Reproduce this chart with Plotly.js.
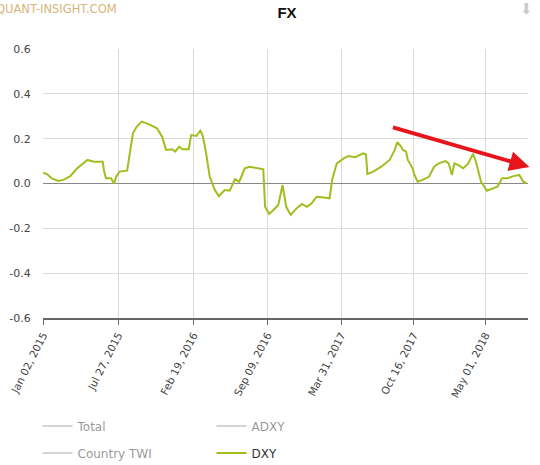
<!DOCTYPE html>
<html>
<head>
<meta charset="utf-8">
<script src="https://cdn.plot.ly/plotly-3.0.1.min.js"></script>
<style>html,body{margin:0;padding:0;background:#fff;}#chart{width:540px;height:465px;}</style>
</head>
<body>
<div id="chart"></div>
<script>
// DXY factor sensitivity
var dxyDates = [
  '2015-01-02','2015-01-13','2015-01-26','2015-02-13','2015-02-27','2015-03-18','2015-04-06','2015-04-20',
  '2015-05-04','2015-05-22','2015-06-15','2015-06-19','2015-06-24','2015-07-08','2015-07-16','2015-07-22',
  '2015-07-31','2015-08-21','2015-08-28','2015-09-06','2015-09-16','2015-09-30','2015-10-19','2015-11-11',
  '2015-11-25','2015-12-06','2015-12-23','2015-12-31','2016-01-11','2016-01-20','2016-02-06','2016-02-13',
  '2016-02-27','2016-03-09','2016-03-16','2016-03-25','2016-04-04','2016-04-18','2016-04-29','2016-05-15',
  '2016-05-29','2016-06-12','2016-06-24','2016-07-09','2016-07-23','2016-08-10','2016-08-29','2016-09-03',
  '2016-09-14','2016-09-26','2016-10-09','2016-10-21','2016-10-31','2016-11-12','2016-11-29','2016-12-13',
  '2016-12-27','2017-01-09','2017-01-23','2017-02-11','2017-02-27','2017-03-06','2017-03-19','2017-04-07',
  '2017-04-20','2017-05-08','2017-05-31','2017-06-07','2017-06-11','2017-06-27','2017-07-19','2017-08-11',
  '2017-08-25','2017-09-01','2017-09-12','2017-09-16','2017-09-25','2017-09-30','2017-10-13','2017-10-18',
  '2017-10-27','2017-11-09','2017-11-27','2017-12-11','2017-12-24','2018-01-11','2018-01-20','2018-01-29',
  '2018-02-05','2018-02-15','2018-03-01','2018-03-14','2018-03-28','2018-04-05','2018-04-19','2018-05-05',
  '2018-05-20','2018-06-03','2018-06-16','2018-06-30','2018-07-17','2018-08-02','2018-08-13','2018-08-22'
];
var dxyValues = [
  0.048,0.042,0.023,0.011,0.016,0.033,0.068,0.086,
  0.105,0.097,0.097,0.053,0.023,0.023,0.000,0.030,
  0.053,0.057,0.135,0.224,0.253,0.276,0.265,0.246,
  0.209,0.150,0.153,0.142,0.164,0.153,0.153,0.216,
  0.212,0.236,0.212,0.135,0.030,-0.029,-0.056,-0.029,
  -0.032,0.019,0.008,0.068,0.075,0.068,0.063,-0.104,
  -0.136,-0.118,-0.096,-0.007,-0.104,-0.140,-0.110,-0.091,
  -0.104,-0.088,-0.059,-0.062,-0.066,0.016,0.090,0.112,
  0.123,0.117,0.135,0.130,0.042,0.053,0.075,0.105,
  0.150,0.185,0.164,0.150,0.142,0.105,0.068,0.038,
  0.008,0.016,0.030,0.075,0.090,0.100,0.090,0.038,
  0.090,0.083,0.068,0.087,0.132,0.097,0.008,-0.032,
  -0.021,-0.014,0.023,0.023,0.033,0.038,0.008,0.000
];
// Series that are switched off in the reference (no values visible)
var hiddenDates = ['2015-01-02'];
var hiddenValues = [null];

var tickDates = ['2015-01-02','2015-07-27','2016-02-19','2016-09-09','2017-03-31','2017-10-16','2018-05-01'];
var tickLabels = ['Jan 02, 2015','Jul 27, 2015','Feb 19, 2016','Sep 09, 2016','Mar 31, 2017','Oct 16, 2017','May 01, 2018'];
var yTicks = [-0.6,-0.4,-0.2,0.0,0.2,0.4,0.6];
var yLabels = ['-0.6','-0.4','-0.2','0.0','0.2','0.4','0.6'];
var seriesNames = ['Total','ADXY','Country TWI','DXY'];

var font = 'DejaVu Sans, Verdana, sans-serif';
var traces = [
  {name: seriesNames[0], x: hiddenDates, y: hiddenValues, type: 'scatter', mode: 'lines', visible: 'legendonly',
   line: {color: '#aaaaaa', width: 2}, legend: 'legend'},
  {name: seriesNames[1], x: hiddenDates, y: hiddenValues, type: 'scatter', mode: 'lines', visible: 'legendonly',
   line: {color: '#aaaaaa', width: 2}, legend: 'legend'},
  {name: seriesNames[2], x: hiddenDates, y: hiddenValues, type: 'scatter', mode: 'lines', visible: 'legendonly',
   line: {color: '#aaaaaa', width: 2}, legend: 'legend2'},
  {name: seriesNames[3], x: dxyDates, y: dxyValues, type: 'scatter', mode: 'lines',
   line: {color: '#9fbf1f', width: 2}, legend: 'legend2'}
];

var legendCommon = {
  orientation: 'h', xref: 'container', yref: 'container', x: 37.5/540, xanchor: 'left', yanchor: 'middle',
  font: {family: font, size: 12, color: '#333'}, bgcolor: 'rgba(0,0,0,0)',
  entrywidth: 129, entrywidthmode: 'pixels', itemclick: false, itemdoubleclick: false
};
var legend1 = Object.assign({}, legendCommon, {y: 1 - 426/465});
var legend2 = Object.assign({}, legendCommon, {y: 1 - 453/465});

var layout = {
  width: 540, height: 465,
  margin: {l: 43, r: 12, t: 49, b: 147},
  paper_bgcolor: '#fff', plot_bgcolor: '#fff',
  title: {text: '<b>FX</b>', x: 287/540, xanchor: 'center', y: 1 - 13/465, yanchor: 'middle',
          font: {family: 'Liberation Sans, Arial, sans-serif', size: 15, color: '#111'}},
  showlegend: true,
  legend: legend1,
  legend2: legend2,
  xaxis: {
    type: 'date', range: ['2015-01-02', '2018-08-26'],
    tickmode: 'array', tickvals: tickDates, ticktext: tickLabels, tickangle: -63,
    tickfont: {family: font, size: 10.5, color: '#444'},
    showgrid: true, gridcolor: '#dadada', gridwidth: 1,
    showline: true, linecolor: '#666', linewidth: 2,
    ticks: 'outside', ticklen: 5, tickcolor: '#666', tickwidth: 1,
    zeroline: false, fixedrange: true
  },
  yaxis: {
    range: [-0.6, 0.6], tickmode: 'array', tickvals: yTicks, ticktext: yLabels,
    tickfont: {family: font, size: 11, color: '#444'},
    showgrid: true, gridcolor: '#dadada', gridwidth: 1,
    zeroline: true, zerolinecolor: '#888', zerolinewidth: 1,
    showline: false, ticks: 'outside', ticklen: 9, tickcolor: 'rgba(0,0,0,0)',
    fixedrange: true
  },
  annotations: [
    {text: 'QUANT-INSIGHT.COM', xref: 'paper', yref: 'paper', x: -43/485 - 6/485, y: 1 + 40/269,
     xanchor: 'left', yanchor: 'middle', showarrow: false,
     font: {family: font, size: 11.5, color: '#d8b57a'}},
    {text: '', xref: 'paper', yref: 'y', x: 1.003, y: 0.074, showarrow: true,
     ax: -138, ay: -40, axref: 'pixel', ayref: 'pixel',
     arrowhead: 2, arrowsize: 1, arrowwidth: 4, arrowcolor: '#e8141b', standoff: 0},
    {text: '⬇', xref: 'paper', yref: 'paper', x: 1 + 7/485, y: 1 + 40/269, xanchor: 'right', yanchor: 'middle',
     showarrow: false, font: {family: font, size: 15, color: '#cccccc'}}
  ]
};

Plotly.newPlot('chart', traces, layout, {displayModeBar: false, staticPlot: true});
</script>
</body>
</html>
